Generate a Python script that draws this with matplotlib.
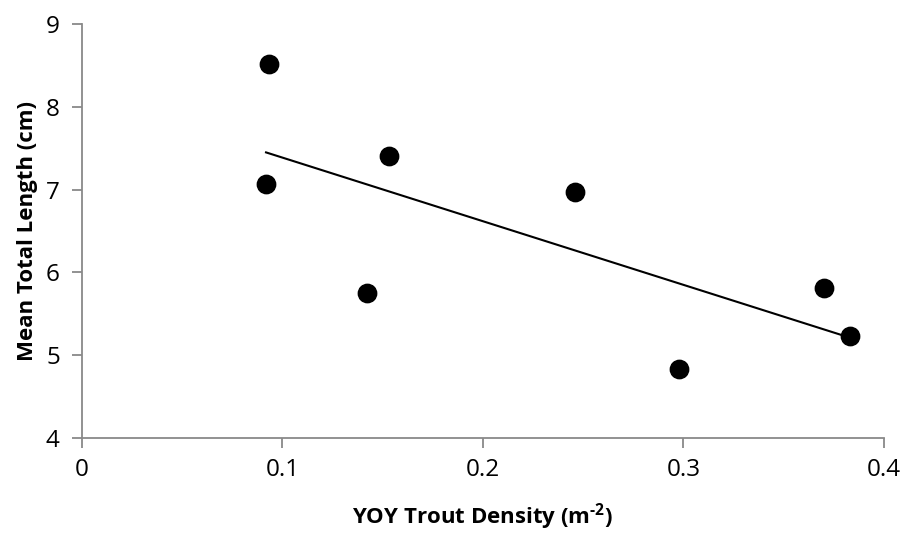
import numpy as np
import matplotlib
matplotlib.use("Agg")
import matplotlib.pyplot as plt

plt.rcParams['font.family'] = ['Open Sans', 'DejaVu Sans']
plt.rcParams['mathtext.fontset'] = 'custom'
plt.rcParams['mathtext.rm'] = 'Open Sans:bold'
plt.rcParams['mathtext.it'] = 'Open Sans:bold'

# YOY trout density (m^-2) vs mean total length (cm)
density = [0.0933, 0.0918, 0.153, 0.142, 0.246, 0.298, 0.370, 0.383]
mean_length = [8.52, 7.07, 7.41, 5.75, 6.97, 4.83, 5.81, 5.23]

x_ticks = [0, 0.1, 0.2, 0.3, 0.4]
x_tick_labels = ['0', '0.1', '0.2', '0.3', '0.4']
y_ticks = [4, 5, 6, 7, 8, 9]

fig = plt.figure(figsize=(9.03, 5.33), dpi=100)
ax = fig.add_axes([0.0908, 0.178, 0.888, 0.777])

ax.scatter(density, mean_length, s=175, color='black', zorder=3)

# linear trendline over the data range
slope, intercept = np.polyfit(density, mean_length, 1)
xs = np.array([min(density), max(density)])
ax.plot(xs, slope * xs + intercept, color='black', lw=1.5, zorder=2)

ax.set_xlim(0, 0.4)
ax.set_ylim(4, 9)
ax.set_xticks(x_ticks)
ax.set_xticklabels(x_tick_labels)
ax.set_yticks(y_ticks)

grey = '#898989'
for s in ['top', 'right']:
    ax.spines[s].set_visible(False)
for s in ['left', 'bottom']:
    ax.spines[s].set_color(grey)
    ax.spines[s].set_linewidth(1.3)
ax.tick_params(axis='both', colors=grey, labelcolor='black', labelsize=17.5,
               length=7, width=1.3, direction='out')
ax.tick_params(axis='x', pad=7)
ax.tick_params(axis='y', pad=9)

ax.set_xlabel('YOY Trout Density (m$^{\\text{-2}}$)', fontsize=16,
              fontweight='bold', labelpad=14)
ax.set_ylabel('Mean Total Length (cm)', fontsize=16, fontweight='bold',
              labelpad=6)

fig.savefig('out.png', dpi=100)
